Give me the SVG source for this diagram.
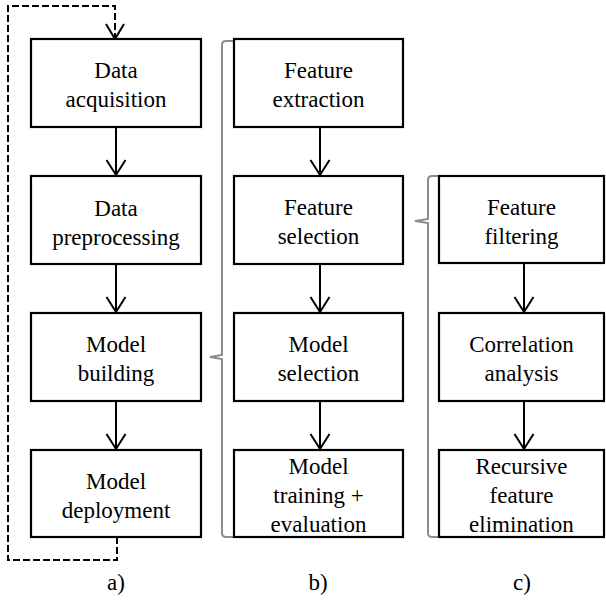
<svg xmlns="http://www.w3.org/2000/svg" width="606" height="600" viewBox="0 0 606 600">
<rect width="606" height="600" fill="#fff"/>

<g id="connectors" fill="none" stroke="#000" stroke-width="2">
<path stroke-dasharray="7,3" d="M117,537 V560 H8 V6 H115 V37"/>
<path d="M106,24 L115,39 L124,24"/>
<path d="M116,127 V175 M106.5,160 L116,175 L125.5,160"/>
<path d="M116,264 V312 M106.5,297 L116,312 L125.5,297"/>
<path d="M116,401 V449 M106.5,434 L116,449 L125.5,434"/>
<path d="M320,127 V175 M310.5,160 L320,175 L329.5,160"/>
<path d="M320,264 V312 M310.5,297 L320,312 L329.5,297"/>
<path d="M320,401 V449 M310.5,434 L320,449 L329.5,434"/>
<path d="M524,264 V312 M514.5,297 L524,312 L533.5,297"/>
<path d="M524,401 V449 M514.5,434 L524,449 L533.5,434"/>
<path stroke="#8c8c8c" d="M234,41 H226 Q222,41 222,45 V355 L210,357 L222,359 V533 Q222,537 226,537 H234"/>
<path stroke="#8c8c8c" d="M439,176 H432 Q428,176 428,180 V219 L415,221 L428,223 V533 Q428,537 432,537 H439"/>
</g>

<g fill="#fff" stroke="#000" stroke-width="2.2">
<rect id="a1" x="31" y="39" width="170" height="88"/>
<rect id="a2" x="31" y="176" width="170" height="88"/>
<rect id="a3" x="31" y="313" width="170" height="88"/>
<rect id="a4" x="31" y="450" width="170" height="87"/>
<rect id="b1" x="234" y="39" width="169" height="88"/>
<rect id="b2" x="234" y="176" width="169" height="88"/>
<rect id="b3" x="234" y="313" width="169" height="88"/>
<rect id="b4" x="234" y="450" width="169" height="87"/>
<rect id="c1" x="439" y="176" width="165" height="87"/>
<rect id="c2" x="439" y="313" width="165" height="88"/>
<rect id="c3" x="439" y="450" width="165" height="87"/>
</g>

<g id="texts" font-size="23" text-anchor="middle" fill="#000" style="font-family:'Liberation Serif',Tinos,'Times New Roman',serif">
<text x="116" y="78">Data</text>
<text x="116" y="107">acquisition</text>
<text x="116" y="216">Data</text>
<text x="116" y="245">preprocessing</text>
<text x="116" y="352">Model</text>
<text x="116" y="381">building</text>
<text x="116" y="489">Model</text>
<text x="116" y="518">deployment</text>
<text x="318.5" y="78">Feature</text>
<text x="318.5" y="107">extraction</text>
<text x="318.5" y="215">Feature</text>
<text x="318.5" y="244">selection</text>
<text x="318.5" y="352">Model</text>
<text x="318.5" y="381">selection</text>
<text x="318.5" y="474">Model</text>
<text x="318.5" y="503">training +</text>
<text x="318.5" y="532">evaluation</text>
<text x="521.5" y="215">Feature</text>
<text x="521.5" y="244">filtering</text>
<text x="521.5" y="352">Correlation</text>
<text x="521.5" y="381">analysis</text>
<text x="521.5" y="474">Recursive</text>
<text x="521.5" y="503">feature</text>
<text x="521.5" y="532">elimination</text>
<text x="116" y="590">a)</text>
<text x="318" y="590">b)</text>
<text x="522" y="590">c)</text>
</g>
</svg>
